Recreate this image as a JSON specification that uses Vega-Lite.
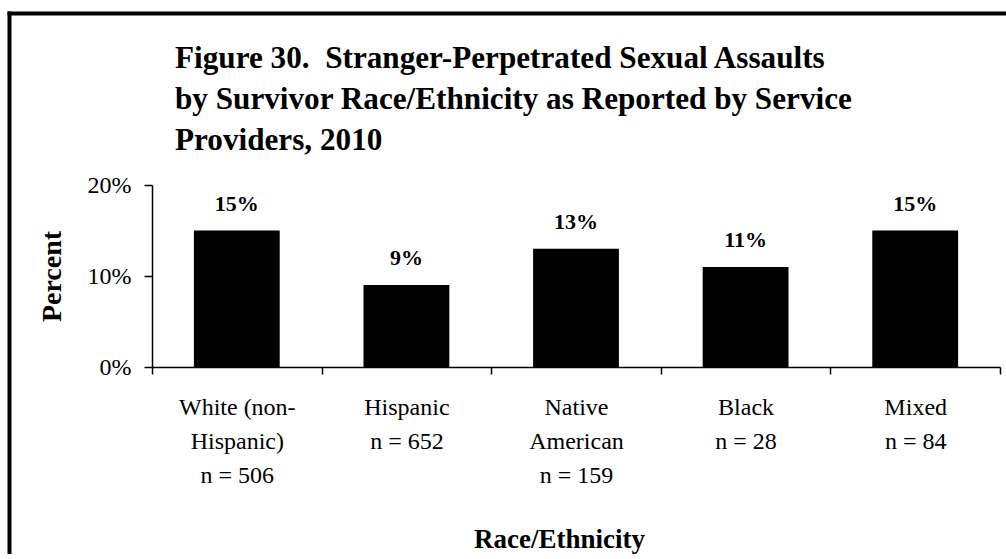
{
  "$schema": "https://vega.github.io/schema/vega-lite/v6.json",
  "autosize": {"type": "none"},
  "padding": {"left": 9, "top": 13, "right": 0, "bottom": 0},
  "width": 997,
  "height": 541,
  "background": "white",
  "config": {
    "view": {"stroke": null},
    "font": "Liberation Serif"
  },
  "title": {
    "text": ["Figure 30.\u00a0 Stranger-Perpetrated Sexual Assaults", "by Survivor Race/Ethnicity as Reported by Service", "Providers, 2010"],
    "anchor": "start",
    "frame": "group",
    "offset": -146,
    "dx": 166,
    "font": "Liberation Serif",
    "fontSize": 31.2,
    "fontWeight": "bold",
    "color": "black",
    "lineHeight": 41
  },
  "resolve": {"scale": {"x": "independent", "y": "independent"}, "axis": {"x": "independent", "y": "independent"}},
  "layer": [
    {
      "data": {
        "values": [
          {"group": "White (non-\nHispanic)\nn = 506", "pct": 0.15},
          {"group": "Hispanic\nn = 652", "pct": 0.09},
          {"group": "Native\nAmerican\nn = 159", "pct": 0.13},
          {"group": "Black\nn = 28", "pct": 0.11},
          {"group": "Mixed\nn = 84", "pct": 0.15}
        ]
      },
      "encoding": {
        "x": {
          "field": "group",
          "type": "nominal",
          "sort": null,
          "scale": {"range": [143, 991], "paddingInner": 0, "paddingOuter": 0},
          "axis": {
            "orient": "bottom",
            "offset": -187,
            "tickBand": "extent",
            "labelExpr": "split(datum.label, '\\n')",
            "labelAngle": 0,
            "labelFont": "Liberation Serif",
            "labelFontSize": 24,
            "labelLineHeight": 34,
            "labelColor": "black",
            "labelPadding": 21,
            "labelOverlap": false,
            "labelBound": false,
            "tickSize": 7,
            "tickColor": "black",
            "tickWidth": 1.5,
            "domainColor": "black",
            "domainWidth": 1.5,
            "title": "Race/Ethnicity",
            "titleFont": "Liberation Serif",
            "titleFontSize": 27,
            "titleFontWeight": "bold",
            "titleColor": "black",
            "titleX": 550,
            "titleY": 180,
            "titleAlign": "center",
            "titleBaseline": "alphabetic"
          }
        },
        "y": {
          "field": "pct",
          "type": "quantitative",
          "scale": {"domain": [0, 0.2], "range": [354, 172], "nice": false, "zero": true},
          "axis": {
            "orient": "left",
            "offset": -143,
            "values": [0, 0.1, 0.2],
            "format": ".0%",
            "grid": false,
            "labelFont": "Liberation Serif",
            "labelFontSize": 24,
            "labelColor": "black",
            "labelPadding": 13,
            "labelOverlap": false,
            "labelBound": false,
            "tickSize": 8,
            "tickColor": "black",
            "tickWidth": 1.5,
            "domainColor": "black",
            "domainWidth": 1.5,
            "title": "Percent",
            "titleFont": "Liberation Serif",
            "titleFontSize": 28,
            "titleFontWeight": "bold",
            "titleColor": "black",
            "titleX": -100,
            "titleY": 263,
            "titleAngle": 270,
            "titleAlign": "center",
            "titleBaseline": "middle"
          }
        }
      },
      "layer": [
        {
          "mark": {"type": "bar", "color": "black", "width": {"band": 0.506}}
        },
        {
          "mark": {
            "type": "text",
            "font": "Liberation Serif",
            "fontSize": 22,
            "fontWeight": "bold",
            "color": "black",
            "baseline": "alphabetic",
            "align": "center",
            "dy": -20
          },
          "encoding": {
            "text": {"field": "pct", "type": "quantitative", "format": ".0%"}
          }
        }
      ]
    },
    {
      "data": {"values": [{"fx": 0, "fy": 0}]},
      "mark": {"type": "point", "opacity": 0},
      "encoding": {
        "x": {
          "field": "fx",
          "type": "quantitative",
          "scale": {"domain": [0, 1], "range": [0, 1000], "nice": false},
          "axis": {"orient": "top", "offset": 0, "domainColor": "black", "domainWidth": 4, "domainCap": "square", "ticks": false, "labels": false, "grid": false, "title": null}
        },
        "y": {
          "field": "fy",
          "type": "quantitative",
          "scale": {"domain": [0, 1], "range": [0, 545], "nice": false},
          "axis": {"orient": "left", "offset": 0, "domainColor": "black", "domainWidth": 4, "domainCap": "square", "ticks": false, "labels": false, "grid": false, "title": null}
        }
      }
    }
  ]
}
